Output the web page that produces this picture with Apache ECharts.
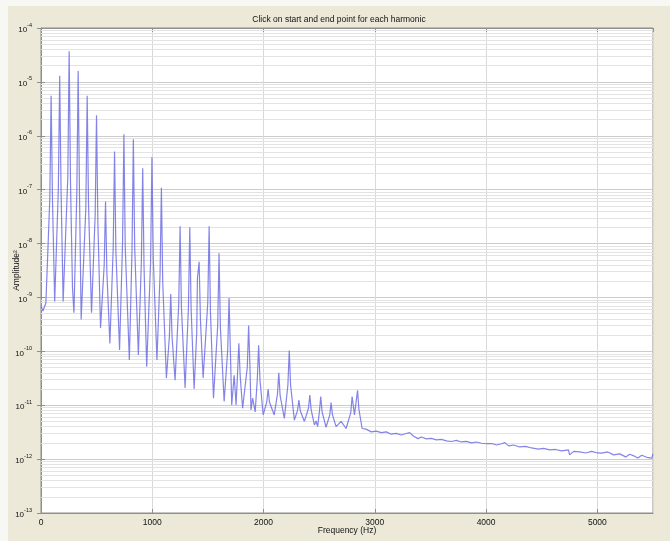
<!DOCTYPE html>
<html>
<head>
<meta charset="utf-8">
<script src="https://cdn.jsdelivr.net/npm/echarts@6/dist/echarts.min.js"></script>
<style>
  html, body { margin: 0; padding: 0; background: #ffffff; }
  #wrap { position: relative; width: 670px; height: 541px; background: #f7f7f4; overflow: hidden; }
  #chart { position: absolute; left: 8px; top: 6px; width: 662px; height: 535px; }
</style>
</head>
<body>
<div id="wrap"><div id="chart"></div></div>
<script>
// ---- data ----
const titleText = 'Click on start and end point for each harmonic';
const xAxisName = 'Frequency (Hz)';
const yAxisName = 'Amplitude\u00B2';
const xTicks = [0, 1000, 2000, 3000, 4000, 5000];
const xMax = 5500;
const yDecades = [-13, -12, -11, -10, -9, -8, -7, -6, -5, -4];
const minorMantissas = [2, 3, 4, 5, 6, 7, 8, 9];

// frequency (Hz) of each read point
const freqHz = [
  0, 17, 44, 79, 91, 103, 123, 156, 168, 180,
  199, 241, 253, 265, 283, 296, 322, 334, 346, 361,
  403, 415, 427, 454, 487, 499, 511, 535, 568, 580,
  592, 619, 649, 661, 673, 706, 733, 745, 757, 794,
  818, 830, 842, 875, 902, 914, 926, 950, 985, 997,
  1009, 1042, 1070, 1082, 1094, 1127, 1154, 1166, 1178, 1205,
  1238, 1250, 1262, 1295, 1325, 1337, 1349, 1376, 1399, 1406,
  1421, 1433, 1457, 1499, 1511, 1523, 1550, 1588, 1600, 1612,
  1646, 1678, 1690, 1702, 1714, 1736, 1753, 1766, 1778, 1790,
  1812, 1854, 1866, 1878, 1887, 1902, 1925, 1944, 1956, 1968,
  1997, 2029, 2041, 2053, 2096, 2125, 2137, 2149, 2187, 2219,
  2231, 2243, 2277, 2306, 2318, 2330, 2367, 2404, 2416, 2428,
  2457, 2472, 2486, 2502, 2514, 2526, 2562, 2595, 2607, 2619,
  2652, 2697, 2742, 2784, 2796, 2817, 2845, 2857, 2886,
  2922, 2968, 3013, 3058, 3103, 3148, 3193, 3238, 3274, 3313,
  3346, 3388, 3418, 3463, 3508, 3553, 3598, 3643, 3688, 3733,
  3778, 3823, 3868, 3913, 3959, 4004, 4049, 4094, 4139, 4168,
  4202, 4247, 4301, 4355, 4409, 4469, 4517, 4571, 4625, 4679,
  4740, 4751, 4787, 4841, 4895, 4949, 5003, 5039, 5093, 5147,
  5201, 5255, 5291, 5327, 5363, 5399, 5444, 5489, 5500
];

// amplitude^2 at each read point
const amplitude = [
  6.95e-10, 5.6e-10, 7.9e-10, 6.6e-8, 5.5e-6, 6.8e-8, 8.4e-10, 1.05e-7, 1.3e-5, 1.05e-7,
  8.4e-10, 1.76e-7, 3.7e-5, 1.39e-7, 1.5e-9, 5.2e-10, 9.1e-8, 1.6e-5, 7.9e-8, 3.9e-10,
  4.6e-8, 5.5e-6, 5.35e-8, 5.2e-10, 3.5e-8, 2.4e-6, 2.55e-8, 2.7e-10, 4.0e-9, 6.0e-8,
  2.9e-9, 1.4e-10, 8.45e-9, 5.1e-7, 7.35e-9, 1.06e-10, 1.07e-8, 1.07e-6, 8.6e-9, 6.9e-11,
  7.7e-9, 8.6e-7, 8.6e-9, 8.6e-11, 4.6e-9, 2.5e-7, 3.6e-9, 5.2e-11, 4.6e-9, 4.0e-7,
  5.25e-9, 6.9e-11, 2.7e-9, 1.09e-7, 1.87e-9, 3.2e-11, 1.93e-10, 1.16e-9, 1.83e-10, 2.9e-11,
  7.8e-10, 2.1e-8, 6.6e-10, 2.1e-11, 6.5e-10, 2.0e-8, 6.3e-10, 2.0e-11, 2.1e-10, 2.3e-9,
  4.6e-9, 3.8e-10, 3.2e-11, 8.2e-10, 2.1e-8, 5.3e-10, 1.35e-11, 3.0e-10, 6.6e-9, 2.8e-10,
  1.17e-11, 1.07e-10, 9.8e-10, 9.9e-11, 1.01e-11, 3.6e-11, 1.01e-11, 3.8e-11, 1.41e-10, 3.5e-11,
  8.8e-12, 5.1e-11, 3.0e-10, 5.0e-11, 8.2e-12, 1.36e-11, 7.5e-12, 3.1e-11, 1.3e-10, 2.9e-11,
  6.6e-12, 1.15e-11, 2.0e-11, 1.15e-11, 6.6e-12, 1.6e-11, 4.0e-11, 1.5e-11, 5.7e-12, 2.4e-11,
  1.04e-10, 2.35e-11, 5.3e-12, 8.1e-12, 1.25e-11, 7.9e-12, 5.0e-12, 8.8e-12, 1.55e-11, 8.2e-12,
  4.3e-12, 5.1e-12, 4.0e-12, 7.6e-12, 1.45e-11, 7.5e-12, 3.9e-12, 6.6e-12, 1.12e-11, 6.7e-12,
  4.0e-12, 5.0e-12, 3.7e-12, 7.3e-12, 1.45e-11, 6.6e-12, 1.9e-11, 8.4e-12, 3.7e-12,
  3.6e-12, 3.2e-12, 3.3e-12, 3.1e-12, 3.2e-12, 2.9e-12, 3.0e-12, 2.8e-12, 2.95e-12, 3.1e-12,
  2.69e-12, 2.4e-12, 2.57e-12, 2.37e-12, 2.42e-12, 2.27e-12, 2.32e-12, 2.18e-12, 2.12e-12, 2.23e-12,
  2.08e-12, 2.13e-12, 2.0e-12, 2.08e-12, 1.97e-12, 1.93e-12, 1.95e-12, 1.83e-12, 1.93e-12, 2.02e-12,
  1.76e-12, 1.83e-12, 1.68e-12, 1.72e-12, 1.61e-12, 1.53e-12, 1.58e-12, 1.48e-12, 1.51e-12, 1.42e-12,
  1.48e-12, 1.2e-12, 1.39e-12, 1.36e-12, 1.3e-12, 1.39e-12, 1.3e-12, 1.29e-12, 1.36e-12, 1.2e-12,
  1.25e-12, 1.1e-12, 1.23e-12, 1.15e-12, 1.05e-12, 1.18e-12, 1.08e-12, 1.04e-12, 1.25e-12
];

// ---- build chart ----
const spectrum = freqHz.map((f, i) => [f, amplitude[i]]);
const minorGrid = [];
for (let k = 0; k < yDecades.length - 1; k++) {
  for (const m of minorMantissas) {
    const v = m * Math.pow(10, yDecades[k]);
    minorGrid.push({ coords: [[xTicks[0], v], [xMax, v]] });
  }
}
const FONT = 'Liberation Sans';
const yMin = Math.pow(10, yDecades[0]);
const yMax = Math.pow(10, yDecades[yDecades.length - 1]);
const AX = '#8f8f8f';

const chart = echarts.init(document.getElementById('chart'), null, { renderer: 'canvas' });
chart.setOption({
  backgroundColor: '#ece9d8',
  animation: false,
  title: {
    text: titleText, left: 'center', top: 4,
    textStyle: { fontFamily: FONT, fontSize: 8.5, fontWeight: 'normal', color: '#111' }
  },
  grid: {
    left: 33, right: 17, top: 22, bottom: 28, outerBoundsMode: 'none', containLabel: false,
    show: true, backgroundColor: '#ffffff', borderColor: AX, borderWidth: 1
  },
  xAxis: [{
    type: 'value', min: xTicks[0], max: xMax, interval: 1000,
    name: xAxisName, nameLocation: 'middle', nameGap: 13, nameMoveOverlap: false,
    nameTextStyle: { fontFamily: FONT, fontSize: 8.5, color: '#111' },
    axisLine: { show: true, lineStyle: { color: AX } },
    axisTick: { show: true, inside: true, length: 4, lineStyle: { color: AX } },
    axisLabel: { fontFamily: FONT, fontSize: 8.5, color: '#111', margin: 5, showMaxLabel: false, formatter: v => String(v) },
    splitLine: { show: true, lineStyle: { color: '#d9d9d9', width: 1 } }
  }, {
    type: 'value', position: 'top', min: xTicks[0], max: xMax, interval: 1000,
    axisLine: { show: true, lineStyle: { color: AX } },
    axisTick: { show: true, inside: true, length: 4, lineStyle: { color: AX } },
    axisLabel: { show: false }, splitLine: { show: false }
  }],
  yAxis: [{
    type: 'log', logBase: 10, min: yMin, max: yMax, interval: 1,
    name: yAxisName, nameLocation: 'middle', nameGap: 20, nameRotate: 90, nameMoveOverlap: false,
    nameTextStyle: { fontFamily: FONT, fontSize: 8.5, color: '#111' },
    axisLine: { show: true, lineStyle: { color: AX } },
    axisTick: { show: true, inside: true, length: 4, lineStyle: { color: AX } },
    axisLabel: {
      margin: 9,
      formatter: v => '{b|10}{s|' + Math.round(Math.log10(v)) + '}',
      rich: {
        b: { fontFamily: FONT, fontSize: 8, color: '#111', verticalAlign: 'bottom', lineHeight: 12 },
        s: { fontFamily: FONT, fontSize: 5.5, color: '#111', verticalAlign: 'top', lineHeight: 12 }
      }
    },
    splitLine: { show: true, lineStyle: { color: '#cccccc', width: 1 } }
  }, {
    type: 'log', logBase: 10, position: 'right', min: yMin, max: yMax, interval: 1,
    axisLine: { show: true, lineStyle: { color: AX } },
    axisTick: { show: true, inside: true, length: 4, lineStyle: { color: AX } },
    axisLabel: { show: false }, splitLine: { show: false }
  }],
  series: [{
    type: 'lines', coordinateSystem: 'cartesian2d', xAxisIndex: 0, yAxisIndex: 0,
    silent: true, z: 1, polyline: false,
    lineStyle: { color: '#e3e3e3', width: 1, opacity: 1, curveness: 0 },
    data: minorGrid
  }, {
    type: 'line', data: spectrum, z: 3, showSymbol: false, symbol: 'none',
    xAxisIndex: 0, yAxisIndex: 0,
    lineStyle: { color: 'rgb(110,110,228)', width: 1.2, opacity: 0.85 }
  }]
});
</script>
</body>
</html>
